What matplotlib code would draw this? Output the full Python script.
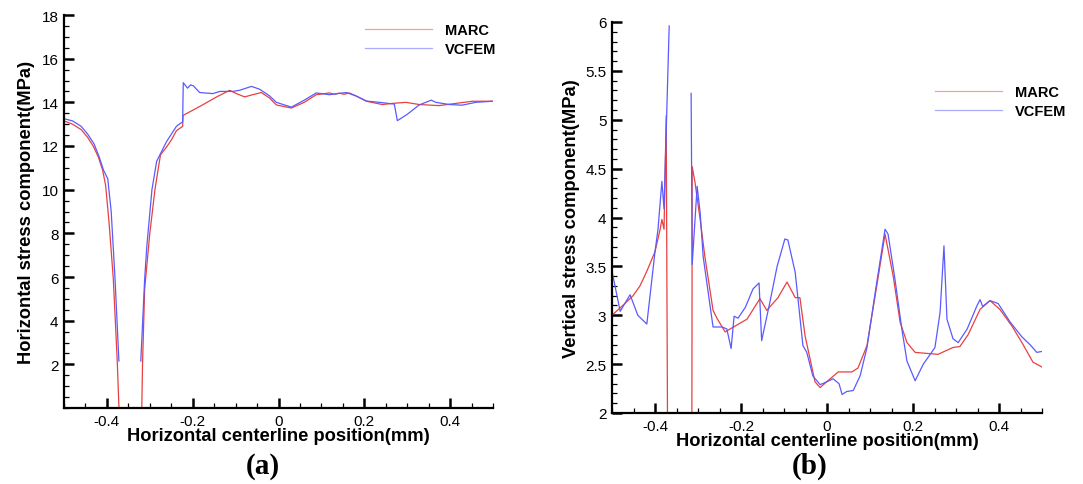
import numpy as np
import matplotlib
matplotlib.use("Agg")
import matplotlib.pyplot as plt
from matplotlib.ticker import MultipleLocator, FixedLocator

plt.rcParams['font.family'] = ['Liberation Sans', 'DejaVu Sans']

nan = np.nan
# ---------------- panel (a): horizontal stress ----------------
a_marc_x = [-0.500, -0.480, -0.460, -0.445, -0.432, -0.420, -0.410, -0.403, -0.395, -0.385,
            -0.376, -0.370, -0.3195, -0.317, -0.312, -0.300, -0.288, -0.280, -0.275, -0.261,
            -0.249, -0.238, -0.2235, -0.2225, -0.180, -0.144, -0.114, -0.098, -0.079, -0.060,
            -0.040, -0.021, -0.005, 0.030, 0.060, 0.088, 0.119, 0.130, 0.142, 0.153,
            0.165, 0.185, 0.205, 0.242, 0.265, 0.297, 0.328, 0.374, 0.413, 0.452, 0.500]
a_marc_y = [13.15, 13.00, 12.75, 12.40, 12.00, 11.50, 10.90, 10.20, 8.50, 5.90,
            2.20, -1.0, -1.0, 2.00, 5.45, 8.00, 10.00, 11.00, 11.60, 11.95,
            12.30, 12.70, 12.90, 13.40, 13.85, 14.25, 14.55, 14.40, 14.25, 14.35,
            14.45, 14.20, 13.88, 13.74, 14.00, 14.35, 14.43, 14.37, 14.42, 14.37,
            14.43, 14.25, 14.05, 13.90, 13.95, 14.00, 13.90, 13.85, 13.95, 14.05, 14.05]

a_vc_x = [-0.500, -0.480, -0.460, -0.445, -0.430, -0.418, -0.408, -0.398, -0.390, -0.381,
          -0.372, -0.350, -0.321, -0.312, -0.307, -0.295, -0.284, -0.261, -0.238, -0.228,
          -0.2235, -0.222, -0.212, -0.205, -0.198, -0.184, -0.153, -0.137, -0.107, -0.091,
          -0.063, -0.044, -0.021, -0.005, 0.030, 0.060, 0.088, 0.119, 0.158, 0.180,
          0.205, 0.235, 0.270, 0.277, 0.300, 0.328, 0.356, 0.367, 0.398, 0.428, 0.460, 0.498]
a_vc_y = [13.25, 13.15, 12.90, 12.55, 12.10, 11.50, 10.90, 10.50, 9.00, 5.90,
          2.15, nan, 2.15, 5.90, 7.40, 10.00, 11.30, 12.20, 12.90, 13.05,
          13.10, 14.90, 14.65, 14.80, 14.75, 14.45, 14.40, 14.50, 14.50, 14.55,
          14.73, 14.60, 14.30, 14.00, 13.78, 14.10, 14.43, 14.35, 14.45, 14.30,
          14.06, 14.00, 13.92, 13.16, 13.45, 13.88, 14.10, 14.00, 13.90, 13.87, 14.00, 14.05]

# ---------------- panel (b): vertical stress ----------------
b_marc_x = [-0.500, -0.475, -0.451, -0.435, -0.419, -0.400, -0.388, -0.384, -0.379, -0.374,
            -0.370, -0.3145, -0.3135, -0.307, -0.295, -0.284, -0.265, -0.256, -0.237, -0.186,
            -0.156, -0.140, -0.114, -0.093, -0.074, -0.063, -0.051, -0.028, -0.016, 0.002,
            0.026, 0.058, 0.072, 0.093, 0.112, 0.135, 0.154, 0.170, 0.186, 0.205,
            0.258, 0.293, 0.309, 0.328, 0.356, 0.379, 0.402, 0.430, 0.456, 0.479, 0.500]
b_marc_y = [3.00, 3.10, 3.20, 3.30, 3.45, 3.65, 3.88, 3.98, 3.88, 5.04,
            1.00, 1.00, 4.52, 4.36, 3.98, 3.60, 3.05, 2.97, 2.83, 2.96,
            3.17, 3.05, 3.18, 3.34, 3.18, 3.18, 2.79, 2.32, 2.26, 2.33,
            2.42, 2.42, 2.46, 2.69, 3.20, 3.83, 3.40, 2.93, 2.72, 2.62,
            2.60, 2.67, 2.68, 2.80, 3.06, 3.15, 3.06, 2.89, 2.70, 2.52, 2.47]

b_vc_x = [-0.500, -0.481, -0.458, -0.440, -0.419, -0.400, -0.393, -0.384, -0.379, -0.367,
          -0.340, -0.316, -0.3135, -0.302, -0.295, -0.288, -0.265, -0.244, -0.233, -0.223,
          -0.216, -0.207, -0.190, -0.172, -0.158, -0.152, -0.133, -0.116, -0.098, -0.091,
          -0.074, -0.056, -0.047, -0.033, -0.016, 0.000, 0.014, 0.028, 0.035, 0.046,
          0.061, 0.077, 0.093, 0.112, 0.135, 0.142, 0.158, 0.174, 0.186, 0.205,
          0.224, 0.240, 0.251, 0.263, 0.272, 0.279, 0.293, 0.305, 0.326, 0.349,
          0.356, 0.362, 0.379, 0.398, 0.426, 0.453, 0.472, 0.488, 0.500]
b_vc_y = [3.45, 3.04, 3.21, 3.00, 2.91, 3.65, 3.88, 4.37, 4.09, 5.96,
          nan, 5.27, 3.52, 4.32, 4.05, 3.60, 2.88, 2.88, 2.86, 2.66,
          2.99, 2.97, 3.08, 3.27, 3.33, 2.74, 3.13, 3.50, 3.78, 3.77,
          3.44, 2.69, 2.62, 2.38, 2.29, 2.32, 2.35, 2.30, 2.19, 2.22,
          2.23, 2.38, 2.67, 3.23, 3.88, 3.83, 3.37, 2.86, 2.53, 2.33,
          2.50, 2.60, 2.67, 3.03, 3.71, 2.96, 2.76, 2.72, 2.86, 3.10,
          3.16, 3.09, 3.15, 3.12, 2.93, 2.78, 2.70, 2.62, 2.63]

a_yticks = [2, 4, 6, 8, 10, 12, 14, 16, 18]
a_yticklabels = ['2', '4', '6', '8', '10', '12', '14', '16', '18']
b_yticks = [2, 2.5, 3, 3.5, 4, 4.5, 5, 5.5, 6]
b_yticklabels = ['2', '2.5', '3', '3.5', '4', '4.5', '5', '5.5', '6']
xticks = [-0.4, -0.2, 0, 0.2, 0.4]
xticklabels = ['-0.4', '-0.2', '0', '0.2', '0.4']

RED = '#e84040'
BLUE = '#5a5aff'

W, H = 1083, 485
fig = plt.figure(figsize=(W / 100, H / 100), dpi=100)


def make_ax(rect_px, ylim, yticks, ylabels, yminor, ylabel, ylabel_x, xlabel_y, letter, letter_pos):
    x0, y0, x1, y1 = rect_px
    ax = fig.add_axes([x0 / W, 1 - y1 / H, (x1 - x0) / W, (y1 - y0) / H])
    ax.set_xlim(-0.5, 0.5)
    ax.set_ylim(*ylim)
    for s in ['top', 'right']:
        ax.spines[s].set_visible(False)
    for s in ['left', 'bottom']:
        ax.spines[s].set_linewidth(1.6)
    ax.xaxis.set_major_locator(FixedLocator(xticks))
    ax.set_xticklabels(xticklabels)
    ax.xaxis.set_minor_locator(MultipleLocator(0.05))
    ax.yaxis.set_major_locator(FixedLocator(yticks))
    ax.set_yticklabels(ylabels)
    ax.yaxis.set_minor_locator(MultipleLocator(yminor))
    ax.tick_params(which='major', direction='in', length=7, width=1.8, labelsize=11, pad=4,
                   color='black')
    ax.tick_params(which='minor', direction='in', length=3.5, width=0.9, color='black')
    ax.set_xlabel('Horizontal centerline position(mm)', fontsize=13.2, fontweight='bold')
    ax.xaxis.label.set_verticalalignment('center')
    ax.xaxis.set_label_coords(0.5, (y1 - xlabel_y) / (y1 - y0))
    ax.set_ylabel(ylabel, fontsize=13.2, fontweight='bold')
    ax.yaxis.label.set_verticalalignment('center')
    ax.yaxis.set_label_coords((ylabel_x - x0) / (x1 - x0), 0.5)
    fig.text(letter_pos[0] / W, 1 - letter_pos[1] / H, letter, fontsize=21, fontweight='bold',
             family='Liberation Serif', ha='center', va='center')
    return ax


axa = make_ax((64, 16, 493, 409), (0, 18), a_yticks, a_yticklabels, 0.5,
              'Horizontal stress component(MPa)', 27, 437, '(a)', (263, 467))
axa.plot(a_marc_x, a_marc_y, color=RED, lw=0.9, label='MARC')
axa.plot(a_vc_x, a_vc_y, color=BLUE, lw=0.9, label='VCFEM')

axb = make_ax((612, 23, 1042, 414), (2, 6), b_yticks, b_yticklabels, 0.1,
              'Vertical stress component(MPa)', 572, 442, '(b)', (810, 466))
axb.plot(b_marc_x, b_marc_y, color=RED, lw=0.9, label='MARC')
axb.plot(b_vc_x, b_vc_y, color=BLUE, lw=0.9, label='VCFEM')

for ax, anchor in ((axa, (365, 24)), (axb, (935, 86))):
    leg = ax.legend(loc='upper left', bbox_to_anchor=(anchor[0] / W, 1 - anchor[1] / H),
                    bbox_transform=fig.transFigure,
                    frameon=False, handlelength=4.6, handletextpad=0.9, labelspacing=0.35,
                    borderpad=0, borderaxespad=0,
                    prop={'weight': 'bold', 'size': 10.5})
    for h in leg.get_lines():
        h.set_alpha(0.5)

fig.savefig('out.png', dpi=100)
